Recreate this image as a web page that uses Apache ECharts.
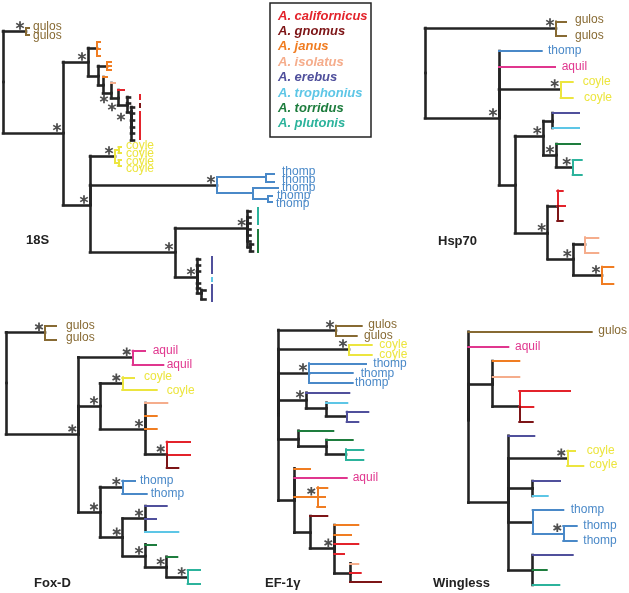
<!DOCTYPE html>
<html><head><meta charset="utf-8">
<script src="https://cdn.jsdelivr.net/npm/echarts@6/dist/echarts.min.js"></script>
<style>html,body{margin:0;padding:0;background:#fff}#c{width:629px;height:593px}</style>
</head><body><div id="c"></div>
<script>
// ---------- colours per taxon ----------
const COLORS = {
  k:'#242424', cal:'#e3232b', gno:'#7d1517', jan:'#f07d22', iso:'#f5ad8c',
  ere:'#50509c', tro:'#5dc6e6', tor:'#1e7d3e', plu:'#2cb39c',
  gul:'#876a33', coy:'#ece53f', tho:'#4a89c8', aqu:'#e0368e'
};
// ---------- legend ----------
const legendSpecies = ['A. californicus','A. gnomus','A. janus','A. isolatus','A. erebus','A. trophonius','A. torridus','A. plutonis'];
const legendKeys = ['cal','gno','jan','iso','ere','tro','tor','plu'];
// ---------- panel titles ----------
const panelTitles = ['18S','Hsp70','Fox-D','EF-1\u03b3','Wingless'];

// ---------- trees: node = [depth, row, colourKey, star, children, verticalMode] ----------
const tree18S = [3, 82, 'k', 0, [
  [26, 31, 'k', 1, [[29, 28, 'gul'], [29, 35, 'gul']]],
  [63, 133, 'k', 1, [
    [88, 62, 'k', 1, [
      [97, 48, 'k', 0, [[100, 42, 'jan'], [100, 49, 'jan'], [100, 56, 'jan']]],
      [98, 76, 'k', 0, [
        [107, 66, 'k', 0, [[111, 62, 'jan'], [111, 66, 'jan'], [111, 70, 'jan']]],
        [103, 85, 'k', 0, [
          [107, 77, 'jan'],
          [111, 93, 'k', [-7, 6], [
            [115, 83, 'iso'],
            [118, 98, 'k', [-6, 9], [
              [124, 90, 'cal'],
              [127, 105, 'k', [-6, 12], [
                [130, 97, 'k'], [130, 103, 'k'],
                [131, 112, 'k', 0, [[134, 107, 'k'], [134, 113, 'k'], [134, 120, 'k'], [134, 127, 'k'], [134, 133, 'k'], [134, 140, 'k']]]
              ]]
            ]]
          ]]
        ]]
      ]]
    ]],
    [90, 205, 'k', 1, [
      [115, 156, 'k', 1, [
        [118.5, 150, 'coy', 0, [[121, 147, 'coy'], [121, 153, 'coy']]],
        [118.5, 163, 'coy', 0, [[121, 160, 'coy'], [121, 166, 'coy']]]
      ]],
      [217, 185, 'k', 1, [
        [266, 177, 'tho', 0, [[274, 174, 'tho'], [274, 182, 'tho']]],
        [253, 193, 'tho', 0, [[278, 188, 'tho'], [268, 199, 'tho', 0, [[272, 196, 'tho'], [272, 202, 'tho']]]]]
      ]],
      [175, 252, 'k', 1, [
        [247.7, 228, 'k', 1, [[250.5, 211, 'k'], [250.5, 217, 'k'], [250.5, 223, 'k'], [250.5, 229, 'k'], [250.5, 235, 'k'], [250.5, 241, 'k'],
          [250, 247, 'k', 0, [[253, 244, 'k'], [253, 251, 'k']]]]],
        [197, 277, 'k', 1, [[200, 259, 'k'], [200, 265, 'k'], [200, 271, 'k'], [200, 283, 'k'], [200, 288, 'k'],
          [201.5, 293, 'k', 0, [[205.5, 290, 'k'], [205.5, 299, 'k']]]]]
      ]]
    ]]
  ]]
]];
// species bars beside the 18S combs: [depth, rowFrom, rowTo, colourKey]
const bars18S = [
  [140, 94, 100, 'cal'], [140, 103, 108, 'gno'], [140, 111, 140, 'cal'],
  [257.7, 207, 225, 'plu'], [257.7, 229, 253, 'tor'],
  [212, 256, 274, 'ere'], [212, 277, 282, 'tro'], [212, 284, 302, 'ere']
];

const treeHsp70 = [425, 73, 'k', 0, [
  [556, 28, 'k', 1, [[566, 21.5, 'gul'], [566, 36, 'gul']]],
  [499, 118, 'k', 1, [
    [541.7, 51, 'tho'],
    [555, 67, 'aqu'],
    [560.7, 89, 'k', 1, [[572.7, 82, 'coy'], [572.7, 97.5, 'coy']]],
    [515, 185, 'k', 0, [
      [543.3, 136, 'k', 1, [
        [552.7, 121, 'k', 0, [[579, 113, 'ere'], [579, 128, 'tro']]],
        [556, 155, 'k', 1, [[580, 144, 'tor'], [572.7, 167, 'k', 1, [[581.7, 160, 'plu'], [581.7, 175, 'plu']]]]]
      ]],
      [547.7, 233, 'k', 1, [
        [557.3, 206, 'k', 0, [[562.7, 190.5, 'cal'], [565, 206, 'cal'], [562.7, 221, 'gno']], 'split'],
        [573.3, 259, 'k', 1, [
          [585, 244, 'k', 0, [[598.3, 237.3, 'iso'], [598.3, 252.7, 'iso']]],
          [602, 275, 'k', 1, [[613.3, 266.7, 'jan'], [613.3, 283.3, 'jan']]]
        ]]
      ]]
    ]]
  ]]
]];

const treeFoxD = [6, 383, 'k', 0, [
  [45, 332.3, 'k', 1, [[56, 326, 'gul'], [56, 339.3, 'gul']]],
  [78.3, 434.3, 'k', 1, [
    [132.7, 357.3, 'k', 1, [[145, 350.7, 'aqu'], [163.3, 365, 'aqu']]],
    [100, 406, 'k', 1, [
      [122.3, 383.3, 'k', 1, [[134, 377.3, 'coy'], [156.7, 390, 'coy']]],
      [145, 429, 'k', 1, [[167.3, 403, 'iso'], [156.7, 416, 'jan'], [156.7, 429, 'jan'],
        [166.7, 454.3, 'k', 1, [[190, 441.7, 'cal'], [190, 454.3, 'cal'], [178.3, 467.7, 'gno']], 'split']]]
    ]],
    [100, 512.3, 'k', 1, [
      [122.3, 487, 'k', 1, [[135, 480.7, 'tho'], [146.7, 493.3, 'tho']]],
      [122.7, 537.3, 'k', 1, [
        [145, 518.5, 'k', 1, [[166.7, 506, 'ere'], [156, 518.7, 'ere'], [178.3, 531.7, 'tro']]],
        [145, 556, 'k', 1, [[156, 544.3, 'tor'],
          [166.7, 567, 'k', 1, [[177.3, 556.7, 'tor'], [187.7, 577, 'k', 1, [[200, 570, 'plu'], [200, 583.3, 'plu']]]]]]]
      ]]
    ]]
  ]]
]];

const treeEF1g = [278.3, 415, 'k', 0, [
  [336, 330, 'k', 1, [[361.7, 325.7, 'gul'], [356.7, 336, 'gul']]],
  [349, 349, 'k', 1, [[371.7, 345, 'coy'], [371.7, 355, 'coy']]],
  [309, 373, 'k', 1, [[366, 363.3, 'tho'], [352.7, 373, 'tho'], [352.7, 382.7, 'tho']]],
  [306, 400, 'k', 1, [[349.3, 392.7, 'ere'],
    [326, 408.3, 'k', 0, [[347.3, 402.7, 'tro'], [346.7, 416, 'k', 0, [[368.3, 411.7, 'ere'], [358.3, 421.7, 'ere']]]]]]],
  [298.3, 439, 'k', 0, [[333.3, 430.7, 'tor'],
    [326, 446.7, 'k', 0, [[352.7, 440, 'tor'], [346, 454, 'k', 0, [[363.3, 449.3, 'plu'], [363.3, 459.3, 'plu']]]]]]],
  [294.3, 500.7, 'k', 0, [
    [310, 468.3, 'jan'],
    [346.7, 477.7, 'aqu'],
    [317.3, 496.7, 'jan', 1, [[327.3, 487.3, 'jan'], [325, 496.7, 'jan'], [325, 506.7, 'jan']]],
    [310, 532.7, 'k', 0, [[327.3, 516, 'gno'],
      [334.3, 548.3, 'k', 1, [[358.3, 525, 'jan'], [351, 535, 'jan'], [358.3, 544, 'cal'], [344, 554, 'cal'],
        [350, 573.3, 'k', 0, [[358.3, 563.3, 'iso'], [360.7, 572.7, 'cal'], [381, 581.7, 'gno']]]]]]]
  ]]
]];

const treeWingless = [468.3, 420, 'k', 0, [
  [591.7, 331.7, 'gul'],
  [508.3, 347, 'aqu'],
  [492.7, 384, 'k', 0, [[519.3, 361, 'jan'], [519.3, 376.7, 'iso'],
    [519.3, 406.7, 'k', 0, [[570, 391, 'cal'], [533.3, 406.7, 'cal'], [532.7, 421.7, 'gno']], 'split']]],
  [508.3, 502.7, 'k', 0, [
    [534.3, 435.7, 'ere'],
    [567.3, 458.3, 'k', 1, [[575, 450.7, 'coy'], [583.3, 465.7, 'coy']]],
    [532.7, 488.3, 'k', 0, [[560, 481, 'ere'], [547.7, 496, 'tro']]],
    [532.7, 522, 'k', 0, [[563.3, 510, 'tho'], [563.3, 533.3, 'tho', 1, [[576.7, 526, 'tho'], [576.7, 540.7, 'tho']]]]],
    [532.7, 570, 'k', 0, [[572.7, 555, 'ere'], [546.7, 570, 'tor'], [559.3, 585, 'plu']]]
  ]]
]];

// ---------- tip labels: [text, depth, row, colourKey] ----------
const labels18S = [
  ['gulos', 33, 27, 'gul'], ['gulos', 33, 36, 'gul'],
  ['coyle', 126, 146, 'coy'], ['coyle', 126, 154, 'coy'], ['coyle', 126, 162, 'coy'], ['coyle', 126, 169, 'coy'],
  ['thomp', 282, 172, 'tho'], ['thomp', 282, 180, 'tho'], ['thomp', 282, 188, 'tho'], ['thomp', 277, 196, 'tho'], ['thomp', 276, 204, 'tho']
];
const labelsHsp70 = [
  ['gulos', 575, 19.5, 'gul'], ['gulos', 575, 35.5, 'gul'], ['thomp', 548, 51, 'tho'], ['aquil', 561.7, 67, 'aqu'],
  ['coyle', 582.7, 82, 'coy'], ['coyle', 584, 97.5, 'coy']
];
const labelsFoxD = [
  ['gulos', 66, 325.5, 'gul'], ['gulos', 66, 338, 'gul'], ['aquil', 152.7, 351, 'aqu'], ['aquil', 166.7, 364.5, 'aqu'],
  ['coyle', 144, 377, 'coy'], ['coyle', 166.7, 390.5, 'coy'], ['thomp', 140, 481, 'tho'], ['thomp', 150.7, 493.5, 'tho']
];
const labelsEF1g = [
  ['gulos', 368.3, 324.5, 'gul'], ['gulos', 364, 335.5, 'gul'], ['coyle', 379.3, 345, 'coy'], ['coyle', 379.3, 354.5, 'coy'],
  ['thomp', 373.3, 363.5, 'tho'], ['thomp', 360.7, 373.5, 'tho'], ['thomp', 355, 383, 'tho'], ['aquil', 352.7, 478, 'aqu']
];
const labelsWingless = [
  ['gulos', 598.3, 330.5, 'gul'], ['aquil', 515, 347, 'aqu'], ['coyle', 586.7, 450.5, 'coy'], ['coyle', 589.3, 464.5, 'coy'],
  ['thomp', 570.7, 510, 'tho'], ['thomp', 583.3, 526, 'tho'], ['thomp', 583.3, 540.5, 'tho']
];

// ---------- layout (not data) ----------
const titleAnchors = [[26, 240], [438, 241], [34, 583], [265, 583], [433, 583]];
const legendBox = {x: 270, y: 3, w: 101, h: 134, textX: 278, firstRow: 16, step: 15.4};
const STAR_OFFSET = [-6, -5.5];

// ---------- build marks ----------
const segs = [], stars = [];
function walk(n) {
  const x = n[0], y = n[1], kids = n[4], mode = n[5];
  if (!kids) return;
  const cols = kids.map(k => k[2]);
  const same = cols.every(v => v === cols[0]) && cols[0] !== 'k';
  kids.forEach(ch => {
    const cx = ch[0], cy = ch[1], cc = ch[2], cs = ch[3];
    segs.push({coords: [[x, cy], [cx, cy]], key: cc});
    const vc = mode === 'split' ? cc : (same ? cols[0] : 'k');
    if (Math.abs(cy - y) > 0.01) segs.push({coords: [[x, y], [x, cy]], key: vc});
    if (cs) { const o = Array.isArray(cs) ? cs : STAR_OFFSET; stars.push([cx + o[0], cy + o[1]]); }
    walk(ch);
  });
}
[tree18S, treeHsp70, treeFoxD, treeEF1g, treeWingless].forEach(walk);

const blackSegs = segs.filter(s => s.key === 'k').map(s => ({coords: s.coords}));
const colSegs = segs.filter(s => s.key !== 'k').map(s => ({coords: s.coords, lineStyle: {color: COLORS[s.key]}}));
const barSegs = bars18S.map(b => ({coords: [[b[0], b[1]], [b[0], b[2]]], lineStyle: {color: COLORS[b[3]]}}));
const allLabels = [].concat(labels18S, labelsHsp70, labelsFoxD, labelsEF1g, labelsWingless);

const starPath = 'path://M-0.2,-1L0.2,-1L0.2,1L-0.2,1Z M0.766,-0.67L0.966,-0.33L-0.766,0.67L-0.966,0.33Z M0.966,0.33L0.766,0.67L-0.966,-0.33L-0.766,-0.67Z';
const FONT = '"Liberation Sans", Arial, Helvetica, sans-serif';

const chart = echarts.init(document.getElementById('c'), null, {renderer: 'canvas'});
chart.setOption({
  animation: false,
  backgroundColor: '#ffffff',
  grid: {left: 0, top: 0, right: 0, bottom: 0},
  xAxis: {type: 'value', min: 0, max: 629, show: false},
  yAxis: {type: 'value', min: 0, max: 593, inverse: true, show: false},
  graphic: [{
    type: 'group',
    children: [{
      type: 'rect', shape: {x: legendBox.x, y: legendBox.y, width: legendBox.w, height: legendBox.h},
      style: {fill: '#fff', stroke: '#222', lineWidth: 1.5}
    }].concat(legendSpecies.map((s, i) => ({
      type: 'text', x: legendBox.textX, y: legendBox.firstRow + i * legendBox.step,
      style: {text: s, fill: COLORS[legendKeys[i]], font: 'italic bold 13px ' + FONT, textAlign: 'left', textVerticalAlign: 'middle'}
    })))
  }],
  series: [
    {type: 'lines', coordinateSystem: 'cartesian2d', silent: true, z: 2,
     lineStyle: {color: COLORS.k, width: 2.6, cap: 'square', opacity: 1}, data: blackSegs},
    {type: 'lines', coordinateSystem: 'cartesian2d', silent: true, z: 3,
     lineStyle: {width: 2, cap: 'square', opacity: 1}, data: colSegs},
    {type: 'lines', coordinateSystem: 'cartesian2d', silent: true, z: 3,
     lineStyle: {width: 2, cap: 'butt', opacity: 1}, data: barSegs},
    {type: 'scatter', silent: true, z: 4, symbol: starPath, symbolSize: 8.5,
     itemStyle: {color: '#222'}, data: stars},
    {type: 'custom', silent: true, z: 5, data: allLabels.map(l => [l[1], l[2]]),
     renderItem: (p, api) => {
       const l = allLabels[p.dataIndex];
       const pt = api.coord([l[1], l[2]]);
       return {type: 'text', x: pt[0], y: pt[1],
         style: {text: l[0], fill: COLORS[l[3]], font: '12px ' + FONT, textAlign: 'left', textVerticalAlign: 'middle'}};
     }},
    {type: 'custom', silent: true, z: 5, data: titleAnchors,
     renderItem: (p, api) => {
       const pt = api.coord(titleAnchors[p.dataIndex]);
       return {type: 'text', x: pt[0], y: pt[1],
         style: {text: panelTitles[p.dataIndex], fill: '#222', font: 'bold 13px ' + FONT, textAlign: 'left', textVerticalAlign: 'middle'}};
     }}
  ]
});
</script></body></html>
